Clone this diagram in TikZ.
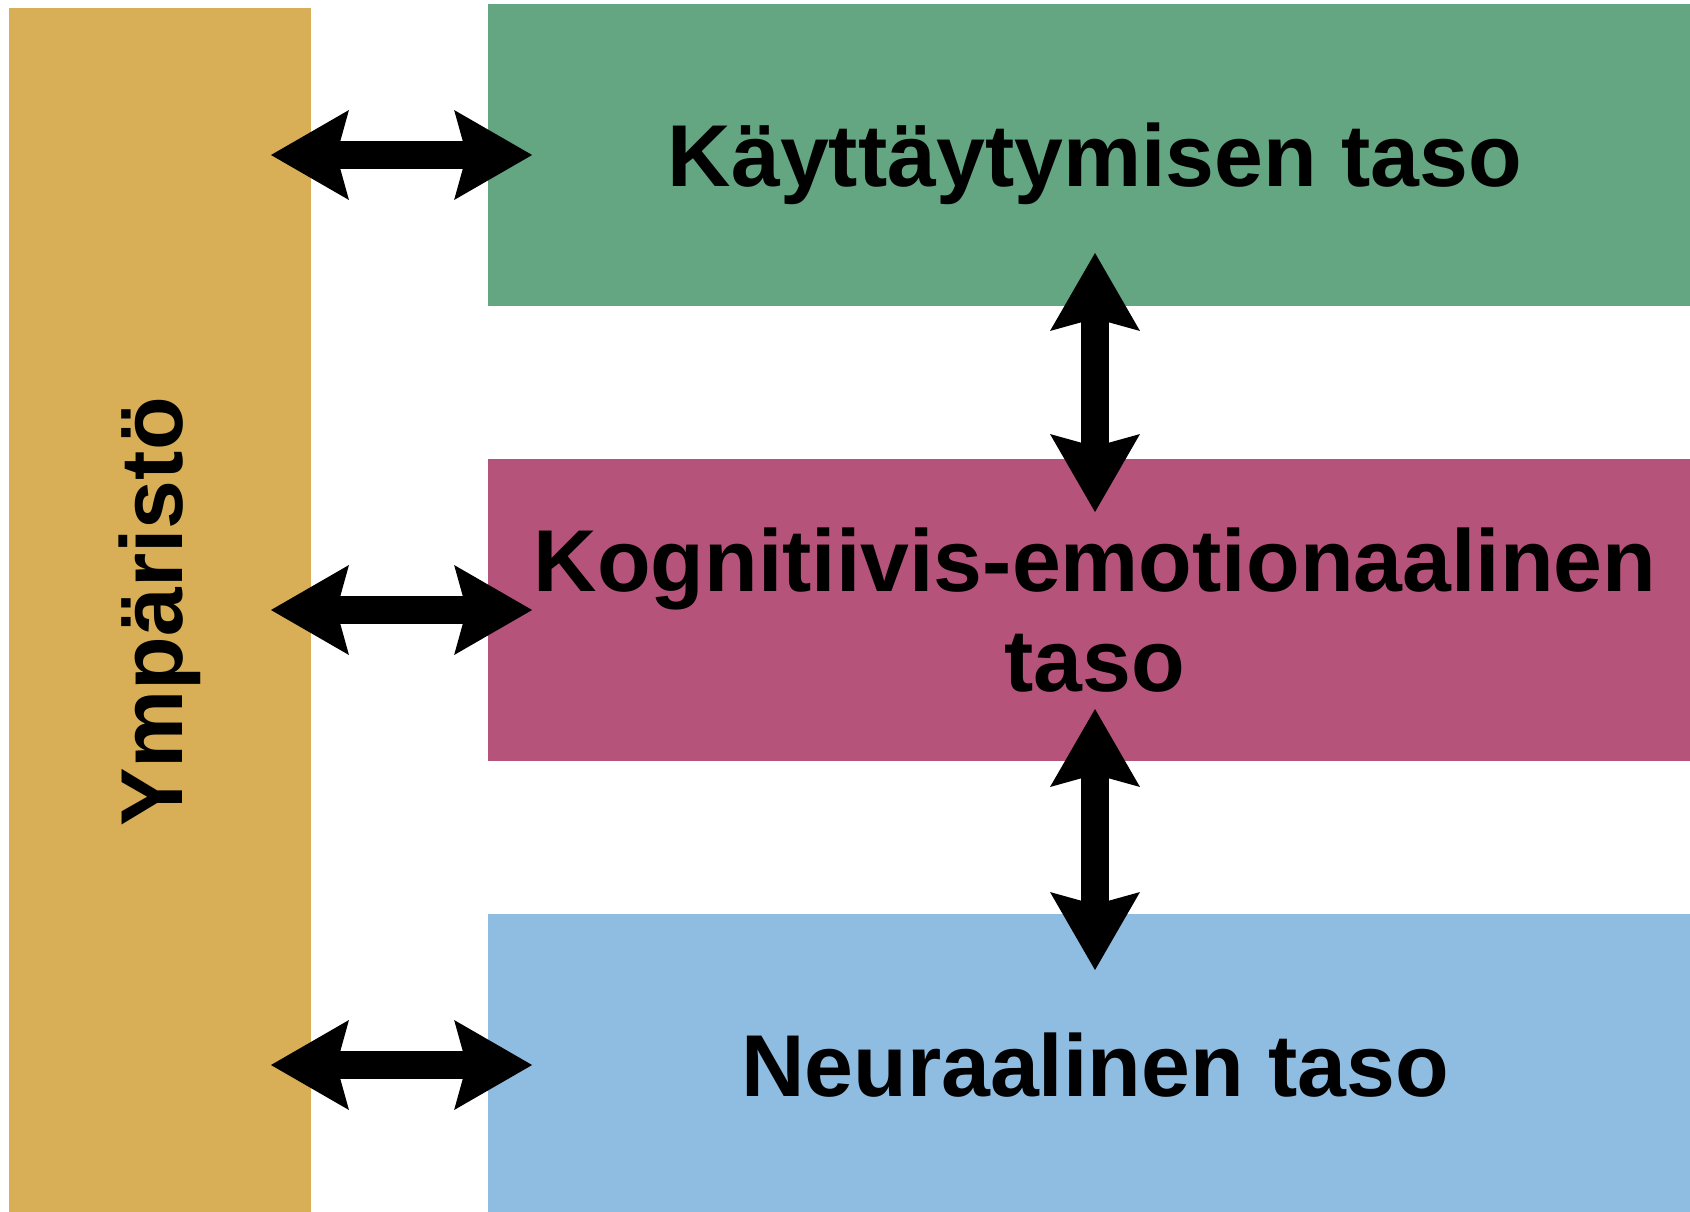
\documentclass[tikz,border=0pt]{standalone}
\usepackage{fontspec}
\setmainfont{Liberation Sans}
\usetikzlibrary{arrows.meta}

\definecolor{ympcol}{HTML}{D8AF57}
\definecolor{kaytcol}{HTML}{64A582}
\definecolor{kogcol}{HTML}{B5537B}
\definecolor{neucol}{HTML}{8FBDE1}

\tikzset{
    taso/.style={rectangle, inner sep=0pt, outer sep=0pt,
        minimum width=24.28cm, minimum height=6.04cm,
        font=\fontsize{50}{57}\selectfont\bfseries, align=center},
    yksirivi/.style={text height=36pt, text depth=0pt},
    nuoli/.style={line width=0.56cm,
        >={Stealth[length=1.56cm,width=1.8cm,inset=0.25cm,line width=0pt]}, <->}
}

\begin{document}
\begin{tikzpicture}[x=0.02cm, y=-0.02cm]
        \useasboundingbox (0,0) rectangle (1690,1211);
        %% Environment
        \node[rectangle, fill=ympcol, inner sep=0pt, outer sep=0pt,
            minimum width=6.04cm, minimum height=24.16cm,
            font=\fontsize{50}{57}\selectfont\bfseries] (ymp) at (160,612) {\rotatebox{90}{Ympäristö}};
        %% Levels
        \node[taso, yksirivi, fill=kaytcol] (kay) at (1095,155) {Käyttäytymisen taso};
        \node[taso, fill=kogcol] (kog) at (1095,610) {Kognitiivis-emotionaalinen\\taso};
        \node[taso, yksirivi, fill=neucol] (neu) at (1095,1065) {Neuraalinen taso};
        %% Environment <-> levels
        \foreach \n in {kay,kog,neu} {
            \draw[nuoli, shorten <=-0.8cm, shorten >=-0.88cm] (\n.west -| ymp.east) -- (\n.west);
        }
        %% Between levels
        \draw[nuoli, shorten <=-1.06cm, shorten >=-1.06cm] (kay.south) -- (kog.north);
        \draw[nuoli, shorten <=-1.04cm, shorten >=-1.12cm] (kog.south) -- (neu.north);
    \end{tikzpicture}
\end{document}
